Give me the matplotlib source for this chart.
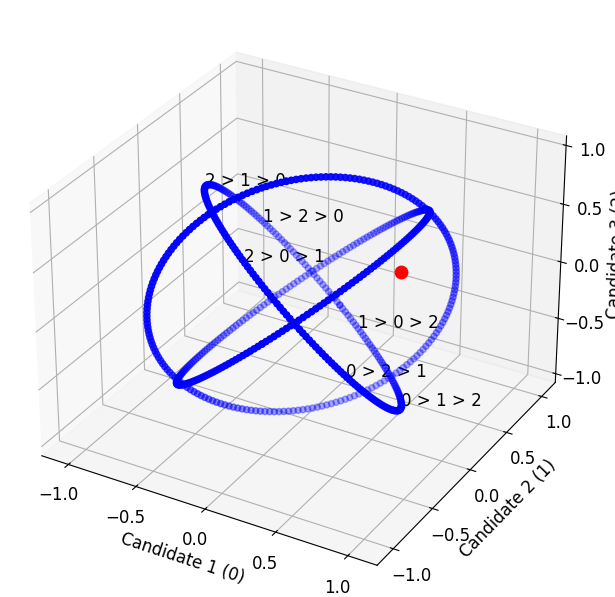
import matplotlib
matplotlib.use('Agg')
import matplotlib.pyplot as plt
import numpy as np

# circles on the unit sphere: ties x0=x1, x0=x2 and the plane x0+x1+x2=0
n_pts = 200
theta = np.linspace(0, 2 * np.pi, n_pts)
circle_normals = [(1, -1, 0), (1, 0, -1), (1, 1, 1)]

rankings = ["0 > 1 > 2", "0 > 2 > 1", "1 > 0 > 2", "1 > 2 > 0", "2 > 0 > 1", "2 > 1 > 0"]
rank_pos = [(1, 0, -1), (1, -1, 0), (0, 1, -1), (-1, 1, 0), (0, -1, 1), (-1, 0, 1)]
red_point = (0.1, 1.1, -0.4)

fig = plt.figure(figsize=(6.15, 5.97), dpi=100)
ax = fig.add_axes([-0.02, -0.01, 1.0, 1.0], projection='3d')

for nrm in circle_normals:
    nv = np.array(nrm, float)
    nv /= np.linalg.norm(nv)
    u = np.cross(nv, [1, 0.3, 0.1])
    u /= np.linalg.norm(u)
    v = np.cross(nv, u)
    pts = np.outer(np.cos(theta), u) + np.outer(np.sin(theta), v)
    ax.scatter(pts[:, 0], pts[:, 1], pts[:, 2], c='blue', s=20)

for lab, p in zip(rankings, rank_pos):
    p = np.array(p, float) / np.linalg.norm(p)
    ax.text(p[0], p[1], p[2], lab, fontsize=12)

ax.scatter(*red_point, c='red', s=80)

ax.set_xlim(-1.2, 1.2)
ax.set_ylim(-1.2, 1.2)
ax.set_zlim(-1.08, 1.08)
ax.set_xlabel('Candidate 1 (0)', fontsize=12)
ax.set_ylabel('Candidate 2 (1)', fontsize=12)
ax.set_zlabel('Candidate 3 (2)', fontsize=12)
ax.set_xticks([-1, -0.5, 0, 0.5, 1])
ax.set_yticks([-1, -0.5, 0, 0.5, 1])
ax.set_zticks([-1, -0.5, 0, 0.5, 1])
ax.tick_params(labelsize=12)

fig.savefig('out.png')
